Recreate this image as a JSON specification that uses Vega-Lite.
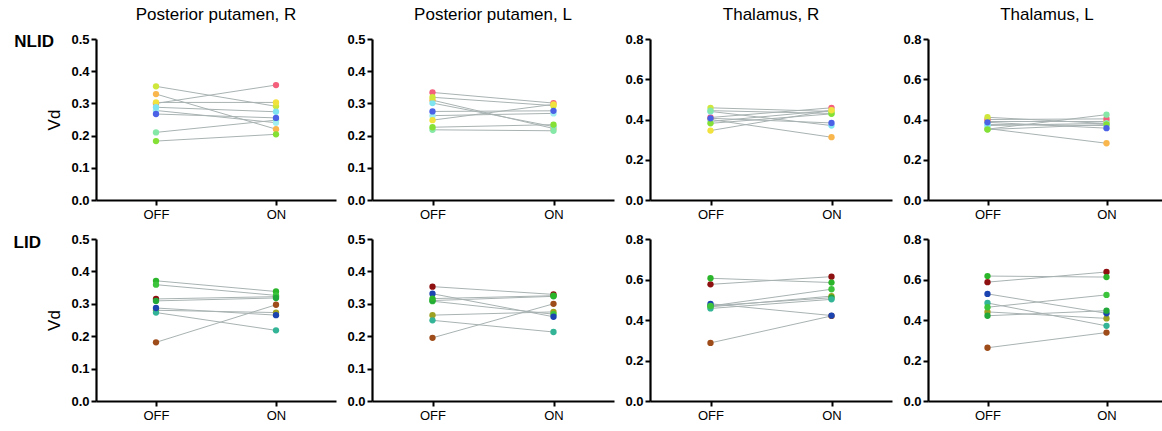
{
  "$schema": "https://vega.github.io/schema/vega-lite/v6.json",
  "padding": {"left": 13, "top": 6, "right": 0, "bottom": 0},
  "datasets": {
    "d": [
      {"g":"NLID","r":"PPR","s":"N_pink","c":"OFF","v":0.300},{"g":"NLID","r":"PPR","s":"N_pink","c":"ON","v":0.357},
      {"g":"NLID","r":"PPR","s":"N_yg","c":"OFF","v":0.353},{"g":"NLID","r":"PPR","s":"N_yg","c":"ON","v":0.291},
      {"g":"NLID","r":"PPR","s":"N_orange","c":"OFF","v":0.329},{"g":"NLID","r":"PPR","s":"N_orange","c":"ON","v":0.220},
      {"g":"NLID","r":"PPR","s":"N_yellow","c":"OFF","v":0.303},{"g":"NLID","r":"PPR","s":"N_yellow","c":"ON","v":0.303},
      {"g":"NLID","r":"PPR","s":"N_mint","c":"OFF","v":0.210},{"g":"NLID","r":"PPR","s":"N_mint","c":"ON","v":0.248},
      {"g":"NLID","r":"PPR","s":"N_lcyan","c":"OFF","v":0.278},{"g":"NLID","r":"PPR","s":"N_lcyan","c":"ON","v":0.240},
      {"g":"NLID","r":"PPR","s":"N_cyan","c":"OFF","v":0.288},{"g":"NLID","r":"PPR","s":"N_cyan","c":"ON","v":0.274},
      {"g":"NLID","r":"PPR","s":"N_blue","c":"OFF","v":0.267},{"g":"NLID","r":"PPR","s":"N_blue","c":"ON","v":0.255},
      {"g":"NLID","r":"PPR","s":"N_green","c":"OFF","v":0.183},{"g":"NLID","r":"PPR","s":"N_green","c":"ON","v":0.204},

      {"g":"NLID","r":"PPL","s":"N_orange","c":"OFF","v":0.310},{"g":"NLID","r":"PPL","s":"N_orange","c":"ON","v":0.222},
      {"g":"NLID","r":"PPL","s":"N_lcyan","c":"OFF","v":0.262},{"g":"NLID","r":"PPL","s":"N_lcyan","c":"ON","v":0.269},
      {"g":"NLID","r":"PPL","s":"N_cyan","c":"OFF","v":0.301},{"g":"NLID","r":"PPL","s":"N_cyan","c":"ON","v":0.228},
      {"g":"NLID","r":"PPL","s":"N_pink","c":"OFF","v":0.334},{"g":"NLID","r":"PPL","s":"N_pink","c":"ON","v":0.301},
      {"g":"NLID","r":"PPL","s":"N_yg","c":"OFF","v":0.319},{"g":"NLID","r":"PPL","s":"N_yg","c":"ON","v":0.293},
      {"g":"NLID","r":"PPL","s":"N_yellow","c":"OFF","v":0.248},{"g":"NLID","r":"PPL","s":"N_yellow","c":"ON","v":0.297},
      {"g":"NLID","r":"PPL","s":"N_blue","c":"OFF","v":0.275},{"g":"NLID","r":"PPL","s":"N_blue","c":"ON","v":0.277},
      {"g":"NLID","r":"PPL","s":"N_mint","c":"OFF","v":0.218},{"g":"NLID","r":"PPL","s":"N_mint","c":"ON","v":0.215},
      {"g":"NLID","r":"PPL","s":"N_green","c":"OFF","v":0.226},{"g":"NLID","r":"PPL","s":"N_green","c":"ON","v":0.234},

      {"g":"NLID","r":"THR","s":"N_pink","c":"OFF","v":0.410},{"g":"NLID","r":"THR","s":"N_pink","c":"ON","v":0.458},
      {"g":"NLID","r":"THR","s":"N_orange","c":"OFF","v":0.400},{"g":"NLID","r":"THR","s":"N_orange","c":"ON","v":0.312},
      {"g":"NLID","r":"THR","s":"N_lcyan","c":"OFF","v":0.390},{"g":"NLID","r":"THR","s":"N_lcyan","c":"ON","v":0.445},
      {"g":"NLID","r":"THR","s":"N_cyan","c":"OFF","v":0.440},{"g":"NLID","r":"THR","s":"N_cyan","c":"ON","v":0.370},
      {"g":"NLID","r":"THR","s":"N_yg","c":"OFF","v":0.458},{"g":"NLID","r":"THR","s":"N_yg","c":"ON","v":0.440},
      {"g":"NLID","r":"THR","s":"N_mint","c":"OFF","v":0.444},{"g":"NLID","r":"THR","s":"N_mint","c":"ON","v":0.430},
      {"g":"NLID","r":"THR","s":"N_green","c":"OFF","v":0.381},{"g":"NLID","r":"THR","s":"N_green","c":"ON","v":0.428},
      {"g":"NLID","r":"THR","s":"N_blue","c":"OFF","v":0.406},{"g":"NLID","r":"THR","s":"N_blue","c":"ON","v":0.383},
      {"g":"NLID","r":"THR","s":"N_yellow","c":"OFF","v":0.345},{"g":"NLID","r":"THR","s":"N_yellow","c":"ON","v":0.446},

      {"g":"NLID","r":"THL","s":"N_orange","c":"OFF","v":0.355},{"g":"NLID","r":"THL","s":"N_orange","c":"ON","v":0.282},
      {"g":"NLID","r":"THL","s":"N_yellow","c":"OFF","v":0.390},{"g":"NLID","r":"THL","s":"N_yellow","c":"ON","v":0.390},
      {"g":"NLID","r":"THL","s":"N_pink","c":"OFF","v":0.400},{"g":"NLID","r":"THL","s":"N_pink","c":"ON","v":0.403},
      {"g":"NLID","r":"THL","s":"N_yg","c":"OFF","v":0.411},{"g":"NLID","r":"THL","s":"N_yg","c":"ON","v":0.380},
      {"g":"NLID","r":"THL","s":"N_lcyan","c":"OFF","v":0.375},{"g":"NLID","r":"THL","s":"N_lcyan","c":"ON","v":0.370},
      {"g":"NLID","r":"THL","s":"N_cyan","c":"OFF","v":0.370},{"g":"NLID","r":"THL","s":"N_cyan","c":"ON","v":0.381},
      {"g":"NLID","r":"THL","s":"N_mint","c":"OFF","v":0.352},{"g":"NLID","r":"THL","s":"N_mint","c":"ON","v":0.424},
      {"g":"NLID","r":"THL","s":"N_green","c":"OFF","v":0.350},{"g":"NLID","r":"THL","s":"N_green","c":"ON","v":0.375},
      {"g":"NLID","r":"THL","s":"N_blue","c":"OFF","v":0.386},{"g":"NLID","r":"THL","s":"N_blue","c":"ON","v":0.357},

      {"g":"LID","r":"PPR","s":"L_olive","c":"OFF","v":0.280},{"g":"LID","r":"PPR","s":"L_olive","c":"ON","v":0.273},
      {"g":"LID","r":"PPR","s":"L_dred","c":"OFF","v":0.315},{"g":"LID","r":"PPR","s":"L_dred","c":"ON","v":0.322},
      {"g":"LID","r":"PPR","s":"L_brown","c":"OFF","v":0.181},{"g":"LID","r":"PPR","s":"L_brown","c":"ON","v":0.297},
      {"g":"LID","r":"PPR","s":"L_teal","c":"OFF","v":0.273},{"g":"LID","r":"PPR","s":"L_teal","c":"ON","v":0.218},
      {"g":"LID","r":"PPR","s":"L_blue","c":"OFF","v":0.287},{"g":"LID","r":"PPR","s":"L_blue","c":"ON","v":0.265},
      {"g":"LID","r":"PPR","s":"L_g1","c":"OFF","v":0.371},{"g":"LID","r":"PPR","s":"L_g1","c":"ON","v":0.338},
      {"g":"LID","r":"PPR","s":"L_g2","c":"OFF","v":0.359},{"g":"LID","r":"PPR","s":"L_g2","c":"ON","v":0.326},
      {"g":"LID","r":"PPR","s":"L_g3","c":"OFF","v":0.309},{"g":"LID","r":"PPR","s":"L_g3","c":"ON","v":0.318},

      {"g":"LID","r":"PPL","s":"L_dred","c":"OFF","v":0.353},{"g":"LID","r":"PPL","s":"L_dred","c":"ON","v":0.329},
      {"g":"LID","r":"PPL","s":"L_brown","c":"OFF","v":0.195},{"g":"LID","r":"PPL","s":"L_brown","c":"ON","v":0.300},
      {"g":"LID","r":"PPL","s":"L_olive","c":"OFF","v":0.265},{"g":"LID","r":"PPL","s":"L_olive","c":"ON","v":0.275},
      {"g":"LID","r":"PPL","s":"L_teal","c":"OFF","v":0.249},{"g":"LID","r":"PPL","s":"L_teal","c":"ON","v":0.213},
      {"g":"LID","r":"PPL","s":"L_g2","c":"OFF","v":0.308},{"g":"LID","r":"PPL","s":"L_g2","c":"ON","v":0.268},
      {"g":"LID","r":"PPL","s":"L_blue","c":"OFF","v":0.331},{"g":"LID","r":"PPL","s":"L_blue","c":"ON","v":0.260},
      {"g":"LID","r":"PPL","s":"L_g3","c":"OFF","v":0.310},{"g":"LID","r":"PPL","s":"L_g3","c":"ON","v":0.323},
      {"g":"LID","r":"PPL","s":"L_g1","c":"OFF","v":0.316},{"g":"LID","r":"PPL","s":"L_g1","c":"ON","v":0.325},

      {"g":"LID","r":"THR","s":"L_brown","c":"OFF","v":0.287},{"g":"LID","r":"THR","s":"L_brown","c":"ON","v":0.420},
      {"g":"LID","r":"THR","s":"L_olive","c":"OFF","v":0.465},{"g":"LID","r":"THR","s":"L_olive","c":"ON","v":0.518},
      {"g":"LID","r":"THR","s":"L_dred","c":"OFF","v":0.576},{"g":"LID","r":"THR","s":"L_dred","c":"ON","v":0.614},
      {"g":"LID","r":"THR","s":"L_g3","c":"OFF","v":0.470},{"g":"LID","r":"THR","s":"L_g3","c":"ON","v":0.510},
      {"g":"LID","r":"THR","s":"L_teal","c":"OFF","v":0.457},{"g":"LID","r":"THR","s":"L_teal","c":"ON","v":0.502},
      {"g":"LID","r":"THR","s":"L_blue","c":"OFF","v":0.480},{"g":"LID","r":"THR","s":"L_blue","c":"ON","v":0.422},
      {"g":"LID","r":"THR","s":"L_g2","c":"OFF","v":0.469},{"g":"LID","r":"THR","s":"L_g2","c":"ON","v":0.552},
      {"g":"LID","r":"THR","s":"L_g1","c":"OFF","v":0.606},{"g":"LID","r":"THR","s":"L_g1","c":"ON","v":0.585},

      {"g":"LID","r":"THL","s":"L_olive","c":"OFF","v":0.440},{"g":"LID","r":"THL","s":"L_olive","c":"ON","v":0.408},
      {"g":"LID","r":"THL","s":"L_brown","c":"OFF","v":0.263},{"g":"LID","r":"THL","s":"L_brown","c":"ON","v":0.338},
      {"g":"LID","r":"THL","s":"L_teal","c":"OFF","v":0.484},{"g":"LID","r":"THL","s":"L_teal","c":"ON","v":0.371},
      {"g":"LID","r":"THL","s":"L_dred","c":"OFF","v":0.587},{"g":"LID","r":"THL","s":"L_dred","c":"ON","v":0.637},
      {"g":"LID","r":"THL","s":"L_blue","c":"OFF","v":0.529},{"g":"LID","r":"THL","s":"L_blue","c":"ON","v":0.433},
      {"g":"LID","r":"THL","s":"L_g1","c":"OFF","v":0.617},{"g":"LID","r":"THL","s":"L_g1","c":"ON","v":0.612},
      {"g":"LID","r":"THL","s":"L_g2","c":"OFF","v":0.463},{"g":"LID","r":"THL","s":"L_g2","c":"ON","v":0.524},
      {"g":"LID","r":"THL","s":"L_g3","c":"OFF","v":0.421},{"g":"LID","r":"THL","s":"L_g3","c":"ON","v":0.446}
    ]
  },
  "config": {
    "font": "Liberation Sans",
    "view": {"stroke": null},
    "axis": {"grid": false, "domainColor": "#000", "domainWidth": 2.2, "tickColor": "#000", "tickWidth": 2, "tickSize": 5, "labelColor": "#000", "titleColor": "#000"},
    "axisX": {"labelFontSize": 13, "labelAngle": 0, "labelPadding": 3, "title": null},
    "axisY": {"labelFontSize": 13, "labelFontWeight": "bold", "labelPadding": 2, "titleFontSize": 17, "titleFontWeight": "normal", "titlePadding": 7},
    "title": {"fontSize": 17, "fontWeight": "normal", "color": "#000", "offset": 9, "anchor": "middle", "frame": "group"}
  },
  "spacing": 12,
  "vconcat": [
    {
      "title": {"text": "NLID", "orient": "left", "anchor": "end", "angle": 0, "align": "left", "baseline": "top", "fontSize": 17, "fontWeight": "bold", "offset": -8, "dy": 28, "frame": "bounds"},
      "spacing": 10,
      "hconcat": [
        {
          "width": 240, "height": 161, "title": "Posterior putamen, R",
          "data": {"name": "d"},
          "transform": [{"filter": "datum.g == 'NLID' && datum.r == 'PPR'"}],
          "encoding": {
            "x": {"field": "c", "type": "ordinal", "sort": ["OFF", "ON"], "scale": {"type": "point", "padding": 0.5}},
            "y": {"field": "v", "type": "quantitative", "scale": {"domain": [0, 0.5]}, "axis": {"values": [0, 0.1, 0.2, 0.3, 0.4, 0.5], "format": ".1f", "title": "Vd"}}
          },
          "layer": [
            {"mark": {"type": "line", "color": "#a9b2b2", "strokeWidth": 1}, "encoding": {"detail": {"field": "s"}}},
            {"mark": {"type": "circle", "size": 40, "opacity": 1}, "encoding": {"color": {"field": "s", "type": "nominal", "legend": null,
              "scale": {"domain": ["N_pink","N_yg","N_orange","N_yellow","N_cyan","N_blue","N_lcyan","N_mint","N_green","L_g1","L_g2","L_g3","L_dred","L_blue","L_teal","L_brown","L_olive"],
                        "range": ["#f4607c","#cfe63a","#f8b64c","#f2e23e","#80e4f0","#4c62e6","#a0eef0","#86e8a6","#84e034","#2bb52b","#3cc43c","#22a83a","#8e1010","#1c44b0","#34b496","#9e4c1a","#9ea022"]}}}}
          ]
        },
        {
          "width": 242, "height": 161, "title": "Posterior putamen, L",
          "data": {"name": "d"},
          "transform": [{"filter": "datum.g == 'NLID' && datum.r == 'PPL'"}],
          "encoding": {
            "x": {"field": "c", "type": "ordinal", "sort": ["OFF", "ON"], "scale": {"type": "point", "padding": 0.5}},
            "y": {"field": "v", "type": "quantitative", "scale": {"domain": [0, 0.5]}, "axis": {"values": [0, 0.1, 0.2, 0.3, 0.4, 0.5], "format": ".1f", "title": null}}
          },
          "layer": [
            {"mark": {"type": "line", "color": "#a9b2b2", "strokeWidth": 1}, "encoding": {"detail": {"field": "s"}}},
            {"mark": {"type": "circle", "size": 40, "opacity": 1}, "encoding": {"color": {"field": "s", "type": "nominal", "legend": null,
              "scale": {"domain": ["N_pink","N_yg","N_orange","N_yellow","N_cyan","N_blue","N_lcyan","N_mint","N_green","L_g1","L_g2","L_g3","L_dred","L_blue","L_teal","L_brown","L_olive"],
                        "range": ["#f4607c","#cfe63a","#f8b64c","#f2e23e","#80e4f0","#4c62e6","#a0eef0","#86e8a6","#84e034","#2bb52b","#3cc43c","#22a83a","#8e1010","#1c44b0","#34b496","#9e4c1a","#9ea022"]}}}}
          ]
        },
        {
          "width": 242, "height": 161, "title": "Thalamus, R",
          "data": {"name": "d"},
          "transform": [{"filter": "datum.g == 'NLID' && datum.r == 'THR'"}],
          "encoding": {
            "x": {"field": "c", "type": "ordinal", "sort": ["OFF", "ON"], "scale": {"type": "point", "padding": 0.5}},
            "y": {"field": "v", "type": "quantitative", "scale": {"domain": [0, 0.8]}, "axis": {"values": [0, 0.2, 0.4, 0.6, 0.8], "format": ".1f", "title": null}}
          },
          "layer": [
            {"mark": {"type": "line", "color": "#a9b2b2", "strokeWidth": 1}, "encoding": {"detail": {"field": "s"}}},
            {"mark": {"type": "circle", "size": 40, "opacity": 1}, "encoding": {"color": {"field": "s", "type": "nominal", "legend": null,
              "scale": {"domain": ["N_pink","N_yg","N_orange","N_yellow","N_cyan","N_blue","N_lcyan","N_mint","N_green","L_g1","L_g2","L_g3","L_dred","L_blue","L_teal","L_brown","L_olive"],
                        "range": ["#f4607c","#cfe63a","#f8b64c","#f2e23e","#80e4f0","#4c62e6","#a0eef0","#86e8a6","#84e034","#2bb52b","#3cc43c","#22a83a","#8e1010","#1c44b0","#34b496","#9e4c1a","#9ea022"]}}}}
          ]
        },
        {
          "width": 238, "height": 161, "title": "Thalamus, L",
          "data": {"name": "d"},
          "transform": [{"filter": "datum.g == 'NLID' && datum.r == 'THL'"}],
          "encoding": {
            "x": {"field": "c", "type": "ordinal", "sort": ["OFF", "ON"], "scale": {"type": "point", "padding": 0.5}},
            "y": {"field": "v", "type": "quantitative", "scale": {"domain": [0, 0.8]}, "axis": {"values": [0, 0.2, 0.4, 0.6, 0.8], "format": ".1f", "title": null}}
          },
          "layer": [
            {"mark": {"type": "line", "color": "#a9b2b2", "strokeWidth": 1}, "encoding": {"detail": {"field": "s"}}},
            {"mark": {"type": "circle", "size": 40, "opacity": 1}, "encoding": {"color": {"field": "s", "type": "nominal", "legend": null,
              "scale": {"domain": ["N_pink","N_yg","N_orange","N_yellow","N_cyan","N_blue","N_lcyan","N_mint","N_green","L_g1","L_g2","L_g3","L_dred","L_blue","L_teal","L_brown","L_olive"],
                        "range": ["#f4607c","#cfe63a","#f8b64c","#f2e23e","#80e4f0","#4c62e6","#a0eef0","#86e8a6","#84e034","#2bb52b","#3cc43c","#22a83a","#8e1010","#1c44b0","#34b496","#9e4c1a","#9ea022"]}}}}
          ]
        }
      ]
    },
    {
      "title": {"text": "LID", "orient": "left", "anchor": "end", "angle": 0, "align": "left", "baseline": "top", "fontSize": 17, "fontWeight": "bold", "offset": 5, "dy": 2, "frame": "bounds"},
      "spacing": 10,
      "hconcat": [
        {
          "width": 240, "height": 162,
          "data": {"name": "d"},
          "transform": [{"filter": "datum.g == 'LID' && datum.r == 'PPR'"}],
          "encoding": {
            "x": {"field": "c", "type": "ordinal", "sort": ["OFF", "ON"], "scale": {"type": "point", "padding": 0.5}},
            "y": {"field": "v", "type": "quantitative", "scale": {"domain": [0, 0.5]}, "axis": {"values": [0, 0.1, 0.2, 0.3, 0.4, 0.5], "format": ".1f", "title": "Vd"}}
          },
          "layer": [
            {"mark": {"type": "line", "color": "#a9b2b2", "strokeWidth": 1}, "encoding": {"detail": {"field": "s"}}},
            {"mark": {"type": "circle", "size": 40, "opacity": 1}, "encoding": {"color": {"field": "s", "type": "nominal", "legend": null,
              "scale": {"domain": ["N_pink","N_yg","N_orange","N_yellow","N_cyan","N_blue","N_lcyan","N_mint","N_green","L_g1","L_g2","L_g3","L_dred","L_blue","L_teal","L_brown","L_olive"],
                        "range": ["#f4607c","#cfe63a","#f8b64c","#f2e23e","#80e4f0","#4c62e6","#a0eef0","#86e8a6","#84e034","#2bb52b","#3cc43c","#22a83a","#8e1010","#1c44b0","#34b496","#9e4c1a","#9ea022"]}}}}
          ]
        },
        {
          "width": 242, "height": 162,
          "data": {"name": "d"},
          "transform": [{"filter": "datum.g == 'LID' && datum.r == 'PPL'"}],
          "encoding": {
            "x": {"field": "c", "type": "ordinal", "sort": ["OFF", "ON"], "scale": {"type": "point", "padding": 0.5}},
            "y": {"field": "v", "type": "quantitative", "scale": {"domain": [0, 0.5]}, "axis": {"values": [0, 0.1, 0.2, 0.3, 0.4, 0.5], "format": ".1f", "title": null}}
          },
          "layer": [
            {"mark": {"type": "line", "color": "#a9b2b2", "strokeWidth": 1}, "encoding": {"detail": {"field": "s"}}},
            {"mark": {"type": "circle", "size": 40, "opacity": 1}, "encoding": {"color": {"field": "s", "type": "nominal", "legend": null,
              "scale": {"domain": ["N_pink","N_yg","N_orange","N_yellow","N_cyan","N_blue","N_lcyan","N_mint","N_green","L_g1","L_g2","L_g3","L_dred","L_blue","L_teal","L_brown","L_olive"],
                        "range": ["#f4607c","#cfe63a","#f8b64c","#f2e23e","#80e4f0","#4c62e6","#a0eef0","#86e8a6","#84e034","#2bb52b","#3cc43c","#22a83a","#8e1010","#1c44b0","#34b496","#9e4c1a","#9ea022"]}}}}
          ]
        },
        {
          "width": 242, "height": 162,
          "data": {"name": "d"},
          "transform": [{"filter": "datum.g == 'LID' && datum.r == 'THR'"}],
          "encoding": {
            "x": {"field": "c", "type": "ordinal", "sort": ["OFF", "ON"], "scale": {"type": "point", "padding": 0.5}},
            "y": {"field": "v", "type": "quantitative", "scale": {"domain": [0, 0.8]}, "axis": {"values": [0, 0.2, 0.4, 0.6, 0.8], "format": ".1f", "title": null}}
          },
          "layer": [
            {"mark": {"type": "line", "color": "#a9b2b2", "strokeWidth": 1}, "encoding": {"detail": {"field": "s"}}},
            {"mark": {"type": "circle", "size": 40, "opacity": 1}, "encoding": {"color": {"field": "s", "type": "nominal", "legend": null,
              "scale": {"domain": ["N_pink","N_yg","N_orange","N_yellow","N_cyan","N_blue","N_lcyan","N_mint","N_green","L_g1","L_g2","L_g3","L_dred","L_blue","L_teal","L_brown","L_olive"],
                        "range": ["#f4607c","#cfe63a","#f8b64c","#f2e23e","#80e4f0","#4c62e6","#a0eef0","#86e8a6","#84e034","#2bb52b","#3cc43c","#22a83a","#8e1010","#1c44b0","#34b496","#9e4c1a","#9ea022"]}}}}
          ]
        },
        {
          "width": 238, "height": 162,
          "data": {"name": "d"},
          "transform": [{"filter": "datum.g == 'LID' && datum.r == 'THL'"}],
          "encoding": {
            "x": {"field": "c", "type": "ordinal", "sort": ["OFF", "ON"], "scale": {"type": "point", "padding": 0.5}},
            "y": {"field": "v", "type": "quantitative", "scale": {"domain": [0, 0.8]}, "axis": {"values": [0, 0.2, 0.4, 0.6, 0.8], "format": ".1f", "title": null}}
          },
          "layer": [
            {"mark": {"type": "line", "color": "#a9b2b2", "strokeWidth": 1}, "encoding": {"detail": {"field": "s"}}},
            {"mark": {"type": "circle", "size": 40, "opacity": 1}, "encoding": {"color": {"field": "s", "type": "nominal", "legend": null,
              "scale": {"domain": ["N_pink","N_yg","N_orange","N_yellow","N_cyan","N_blue","N_lcyan","N_mint","N_green","L_g1","L_g2","L_g3","L_dred","L_blue","L_teal","L_brown","L_olive"],
                        "range": ["#f4607c","#cfe63a","#f8b64c","#f2e23e","#80e4f0","#4c62e6","#a0eef0","#86e8a6","#84e034","#2bb52b","#3cc43c","#22a83a","#8e1010","#1c44b0","#34b496","#9e4c1a","#9ea022"]}}}}
          ]
        }
      ]
    }
  ]
}
